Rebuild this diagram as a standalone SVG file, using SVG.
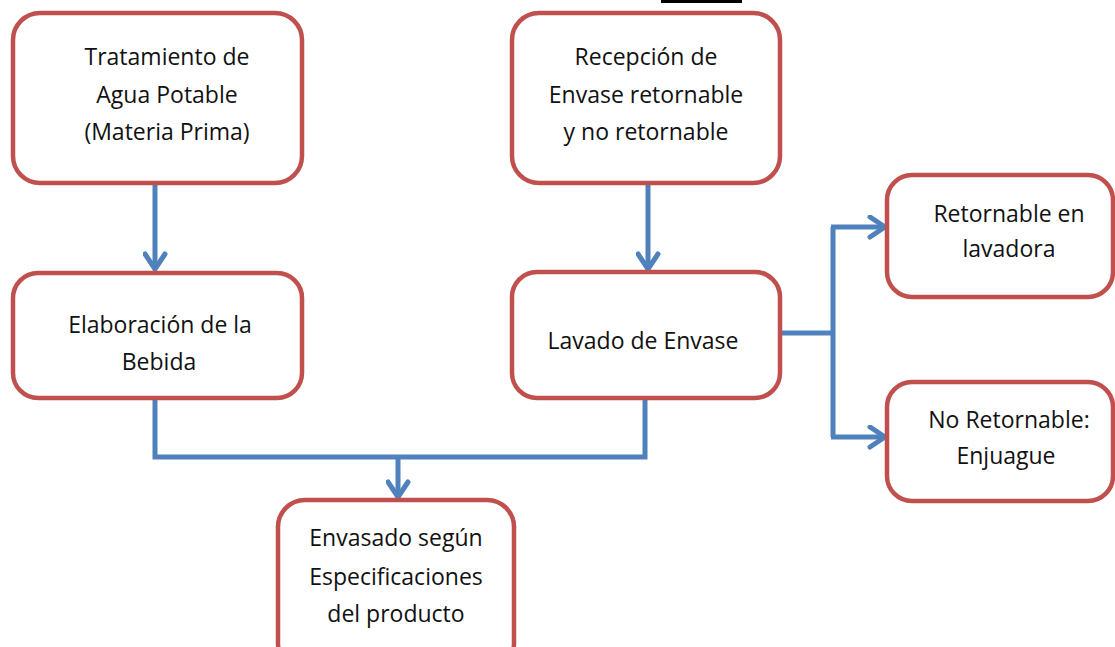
<svg xmlns="http://www.w3.org/2000/svg" width="1115" height="647" viewBox="0 0 1115 647">
<style>
.box{fill:#fff;stroke:#C0504D;stroke-width:4.5}
.t{font-family:"Open Sans","Liberation Sans",sans-serif;font-size:23px;fill:#111;text-anchor:middle}
.c{fill:none;stroke:#4F81BD;stroke-width:5}
</style>
<defs>
<marker id="ah" viewBox="0 0 20 20" refX="16" refY="10" markerWidth="5" markerHeight="5" markerUnits="strokeWidth" orient="auto">
<path d="M4,2 L16,10 L4,18" fill="none" stroke="#4F81BD" stroke-width="4" stroke-linecap="round" stroke-linejoin="round"/>
</marker>
</defs>
<rect x="661" y="0" width="81" height="3" fill="#000"/>
<g id="connectors">
<path class="c" d="M155,185 V269" marker-end="url(#ah)"/>
<path class="c" d="M648,185 V269" marker-end="url(#ah)"/>
<path class="c" d="M155,398 V457 H645 V398"/>
<path class="c" d="M398,457 V497" marker-end="url(#ah)"/>
<path class="c" d="M781,333 H834"/>
<path class="c" d="M833,227 V437"/>
<path class="c" d="M831,227 H885" marker-end="url(#ah)"/>
<path class="c" d="M831,437 H885" marker-end="url(#ah)"/>
</g>
<g id="n1">
<rect class="box" x="13" y="13" width="289" height="170" rx="27"/>
<text class="t" x="167" y="65">Tratamiento de</text>
<text class="t" x="167" y="103">Agua Potable</text>
<text class="t" x="167" y="140">(Materia Prima)</text>
</g>
<g id="n2">
<rect class="box" x="512" y="13" width="268" height="170" rx="27"/>
<text class="t" x="646" y="65">Recepción de</text>
<text class="t" x="646" y="103">Envase retornable</text>
<text class="t" x="646" y="140">y no retornable</text>
</g>
<g id="n3">
<rect class="box" x="13" y="273" width="289" height="125" rx="25"/>
<text class="t" x="160" y="333">Elaboración de la</text>
<text class="t" x="159" y="370">Bebida</text>
</g>
<g id="n4">
<rect class="box" x="512" y="272" width="268" height="126" rx="25"/>
<text class="t" x="643" y="349">Lavado de Envase</text>
</g>
<g id="n5">
<rect class="box" x="887" y="175" width="226" height="122" rx="25"/>
<text class="t" x="1009" y="222">Retornable en</text>
<text class="t" x="1009" y="257">lavadora</text>
</g>
<g id="n6">
<rect class="box" x="887" y="382" width="226" height="119" rx="25"/>
<text class="t" x="1009" y="428">No Retornable:</text>
<text class="t" x="1006" y="464">Enjuague</text>
</g>
<g id="n7">
<rect class="box" x="278" y="500" width="236" height="170" rx="27"/>
<text class="t" x="396" y="546">Envasado según</text>
<text class="t" x="396" y="585">Especificaciones</text>
<text class="t" x="396" y="622">del producto</text>
</g>
</svg>
